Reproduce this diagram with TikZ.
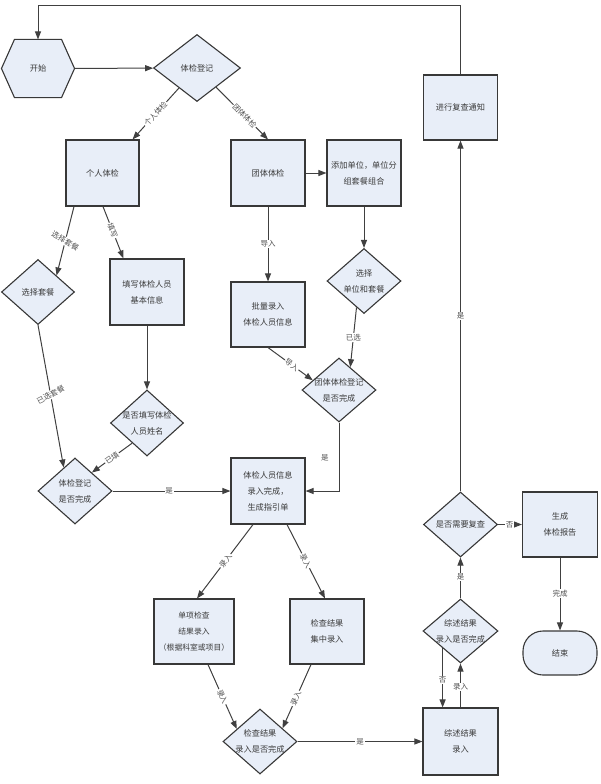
\documentclass[tikz,border=0pt]{standalone}
\usepackage{fontspec}
\setmainfont{Noto Sans CJK SC}
\usetikzlibrary{arrows.meta,calc,backgrounds,shapes.geometric}
\definecolor{boxfill}{HTML}{E8EEF8}
\definecolor{edgec}{HTML}{383838}
\definecolor{linec}{HTML}{404040}
\definecolor{txtc}{HTML}{3A3A3A}
\definecolor{labc}{HTML}{505050}
\newcommand\dtext[1]{\makebox[0pt]{\begin{tabular}{@{}c@{}}#1\end{tabular}}}
\begin{document}
\begin{tikzpicture}[x=1pt,y=-1pt,
 base/.style={draw=edgec, fill=boxfill, line width=1.1pt, text=txtc, font=\fontsize{8.2}{16}\selectfont, inner sep=0pt},
 box/.style={base, rectangle, minimum width=74pt, minimum height=66pt, align=center},
 dia/.style={base, diamond, minimum width=74pt, minimum height=65pt},
 arr/.style={draw=linec, line width=1pt, -{Triangle[length=8pt,width=6pt]}},
 lab/.style={fill=white, inner sep=0.8pt, text=labc, font=\fontsize{7.5}{9}\selectfont}
]
\useasboundingbox (0,0) rectangle (600,784);

% nodes
\node[base, draw=none, fill=none, minimum width=72pt, minimum height=57pt] (start) at (38,68.5) {开始};
\begin{scope}[on background layer]
\draw[base] (start.west) -- ([xshift=13pt]start.north west) -- ([xshift=-13pt]start.north east) -- (start.east) -- ([xshift=-13pt]start.south east) -- ([xshift=13pt]start.south west) -- cycle;
\end{scope}
\node[dia, minimum width=87pt, minimum height=67pt] (reg) at (197,68) {\dtext{体检登记}};
\node[box, minimum width=73pt] (ind) at (102.5,173) {个人体检};
\node[box] (grp) at (268,173) {团体体检};
\node[box] (addu) at (364,173) {添加单位，单位分\\组套餐组合};
\node[dia, minimum width=73pt] (selpkg) at (38,292) {\dtext{选择套餐}};
\node[box] (fill) at (147,292) {填写体检人员\\基本信息};
\node[box, minimum height=65pt] (batch) at (268,314.5) {批量录入\\体检人员信息};
\node[dia] (selunit) at (364,281) {\dtext{选择\\单位和套餐}};
\node[dia, minimum width=73pt, minimum height=66pt] (chkname) at (147,423) {\dtext{是否填写体检\\人员姓名}};
\node[dia, minimum height=64pt] (grpdone) at (339,390) {\dtext{团体体检登记\\是否完成}};
\node[dia, minimum height=66pt] (regdone) at (75,491) {\dtext{体检登记\\是否完成}};
\node[box] (guide) at (268,491) {体检人员信息\\录入完成，\\生成指引单};
\node[box, minimum width=80pt, minimum height=65pt, font=\fontsize{7.8}{16}\selectfont] (single) at (194,631.5) {单项检查\\结果录入\\（根据科室或项目）};
\node[box, minimum height=65pt] (central) at (327,631.5) {检查结果\\集中录入};
\node[dia] (resdone) at (260,741.5) {\dtext{检查结果\\录入是否完成}};
\node[box, minimum width=75pt, minimum height=67pt] (summ) at (460.5,741.5) {综述结果\\录入};
\node[dia, minimum width=75pt, minimum height=64pt] (summdone) at (460.5,631) {\dtext{综述结果\\录入是否完成}};
\node[dia] (recheck) at (460.5,524.5) {\dtext{是否需要复查}};
\node[box, minimum height=65pt] (notify) at (460.5,107.5) {进行复查通知};
\node[box, minimum width=75pt, minimum height=65pt] (report) at (560,524.5) {生成\\体检报告};
\node[base, rectangle, rounded corners=20pt, minimum width=74pt, minimum height=44pt] (fin) at (560,653) {结束};

% connectors
\coordinate (loopc) at (38,6);
\draw[arr] (notify.north) |- (loopc) -- (start.north);
\draw[arr] (start) -- (reg);
\draw[arr] (reg) -- ([xshift=-7pt]ind.north east) node[lab,sloped,pos=0.5]{个人体检};
\draw[arr] (reg) -- (grp.north) node[lab,sloped,pos=0.55]{团体体检};
\draw[arr] ([xshift=-28.5pt]ind.south) -- (selpkg.north east) node[lab,pos=0.5,rotate=-30]{选择套餐};
\draw[arr] ([xshift=0.5pt]ind.south) -- ([xshift=14pt]fill.north west) node[lab,sloped,pos=0.46]{填写};
\draw[arr] (grp) -- (batch) node[lab,pos=0.5]{导入};
\draw[arr] (grp) -- (addu);
\draw[arr] (addu) -- (selunit);
\draw[arr] ($(selunit.south)!0.2!(selunit.west)$) -- ($(grpdone.north)!0.3!(grpdone.east)$) node[lab,pos=0.5]{已选};
\draw[arr] (batch.south) -- ($(grpdone.north)!0.7!(grpdone.west)$) node[lab,sloped,pos=0.53]{导入};
\draw[arr] (fill) -- (chkname);
\draw[arr] (selpkg.south) -- ($(regdone.north)!0.3!(regdone.west)$) node[lab,pos=0.49,rotate=27]{已选套餐};
\draw[arr] ($(chkname.south)!0.4!(chkname.west)$) -- ($(regdone.north)!0.45!(regdone.east)$) node[lab,sloped,pos=0.5]{已填};
\draw[arr] (regdone) -- (guide) node[lab,pos=0.48]{是};
\draw[arr] (grpdone.south) |- (guide.east) node[lab,fill=none,pos=0.26,left=9pt]{是};
\draw[arr] ([xshift=-15pt]guide.south) -- ([xshift=3pt]single.north) node[lab,sloped,pos=0.49]{录入};
\draw[arr] ([xshift=19pt]guide.south) -- ([xshift=-2pt]central.north) node[lab,sloped,pos=0.49]{录入};
\draw[arr] ([xshift=14pt]single.south) -- ($(resdone.north)!0.62!(resdone.west)$) node[lab,sloped,pos=0.5]{录入};
\draw[arr] ([xshift=-16pt]central.south) -- ($(resdone.north)!0.6!(resdone.east)$) node[lab,sloped,pos=0.53]{录入};
\draw[arr] (resdone) -- (summ) node[lab,pos=0.5]{是};
\draw[arr] ($(summdone.south)!0.47!(summdone.west)$) coordinate (nA) -- (nA |- summ.north) node[lab,pos=0.53]{否};
\draw[arr] (summ) -- (summdone) node[lab,pos=0.47]{录入};
\draw[arr] (summdone) -- (recheck) node[lab,pos=0.52]{是};
\draw[arr] (recheck) -- (notify) node[lab,pos=0.5]{是};
\draw[arr] (recheck) -- (report) node[lab,pos=0.48]{否};
\draw[arr] (report) -- (fin) node[lab,pos=0.49]{完成};
\end{tikzpicture}
\end{document}
